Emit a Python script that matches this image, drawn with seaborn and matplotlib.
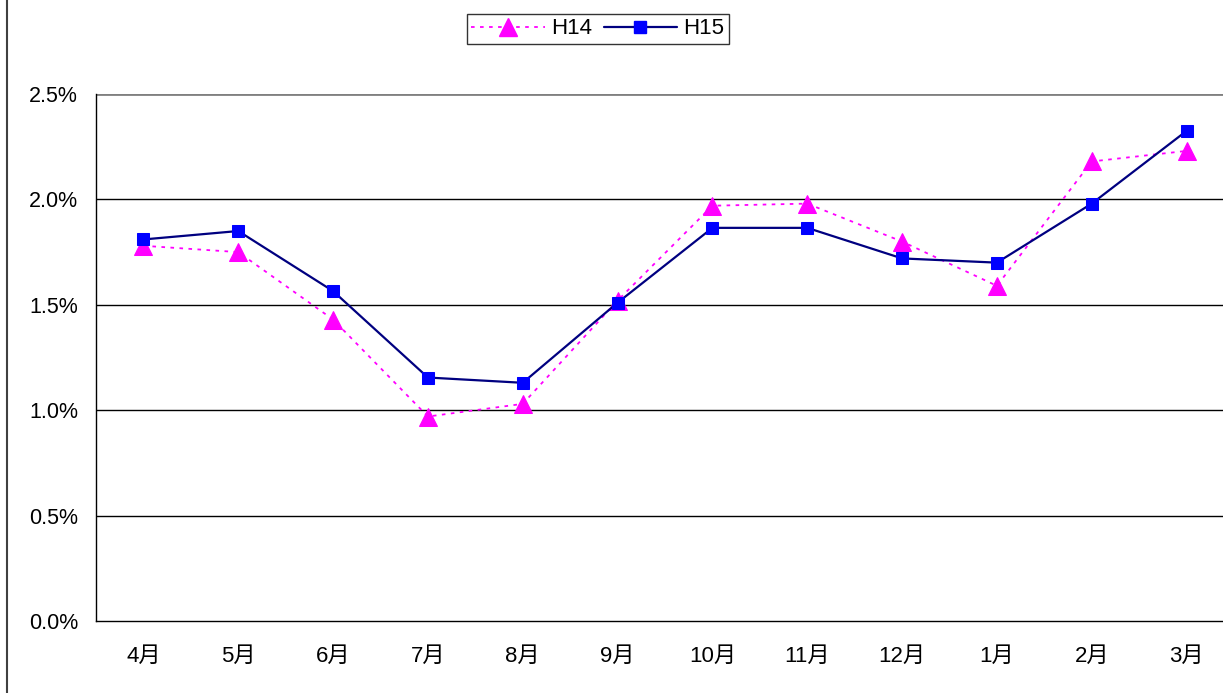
import pandas as pd
import matplotlib
matplotlib.use("Agg")
import matplotlib.pyplot as plt
import seaborn as sns
from matplotlib.lines import Line2D
from matplotlib.ticker import FixedLocator, PercentFormatter

months = ['4月', '5月', '6月', '7月', '8月', '9月', '10月', '11月', '12月', '1月', '2月', '3月']
h14 = [1.78, 1.75, 1.43, 0.97, 1.03, 1.52, 1.97, 1.98, 1.80, 1.59, 2.18, 2.23]
h15 = [1.81, 1.85, 1.565, 1.155, 1.13, 1.51, 1.865, 1.865, 1.72, 1.70, 1.98, 2.325]

sns.set_style("white")
plt.rcParams['font.family'] = ['Liberation Sans', 'Noto Sans CJK JP']

df = pd.DataFrame({'month': months, 'H14': h14, 'H15': h15})
df['pos'] = range(len(months))

fig = plt.figure(figsize=(12.23, 6.93), dpi=100)
ax = fig.add_axes([96 / 1223, 1 - 621 / 693, 1138 / 1223, (621 - 94) / 693])

sns.lineplot(data=df, x='pos', y='H14', ax=ax, color='#FF00FF', linestyle=(0, (2, 3)),
             linewidth=1.3, marker='^', markersize=13, markeredgecolor='#FF00FF',
             markerfacecolor='#FF00FF', label='H14', legend=False)
sns.lineplot(data=df, x='pos', y='H15', ax=ax, color='#000080', linewidth=1.6,
             marker='s', markersize=8, markeredgecolor='#0000FF',
             markerfacecolor='#0000FF', label='H15', legend=False)

ax.set_xlim(-0.5, len(months) - 0.5)
ax.set_ylim(0, 2.5)
ax.set_yticks([0, 0.5, 1.0, 1.5, 2.0, 2.5])
ax.yaxis.set_major_formatter(PercentFormatter(decimals=1))
ax.set_xticks(df['pos'])
ax.set_xticklabels(months)
ax.xaxis.set_minor_locator(FixedLocator([i + 0.5 for i in range(len(months) - 1)]))
ax.tick_params(axis='x', which='major', length=0, labelsize=16, pad=18, labelcolor='black')
ax.tick_params(axis='x', which='minor', direction='in', length=5, width=1, color='black')
ax.tick_params(axis='y', length=0, labelsize=15.5, pad=13, labelcolor='black')
ax.set_xlabel('')
ax.set_ylabel('')

for v in [0.5, 1.0, 1.5, 2.0]:
    ax.axhline(v, color='black', linewidth=1, zorder=0)
ax.axhline(2.5, color='#808080', linewidth=2, zorder=0)

for s in ['top', 'right']:
    ax.spines[s].set_visible(False)
ax.spines['left'].set_color('black')
ax.spines['bottom'].set_color('black')
ax.spines['left'].set_linewidth(1)
ax.spines['bottom'].set_linewidth(1)

# outer frame line on the left edge
fig.add_artist(Line2D([7 / 1223, 7 / 1223], [0, 1], transform=fig.transFigure,
                      color='#404040', linewidth=1.5))

handles = [
    Line2D([], [], color='#FF00FF', linestyle=(0, (2, 3)), linewidth=1.3, marker='^',
           markersize=13, markerfacecolor='#FF00FF', markeredgecolor='#FF00FF'),
    Line2D([], [], color='#000080', linewidth=1.6, marker='s', markersize=8,
           markerfacecolor='#0000FF', markeredgecolor='#0000FF'),
]
leg = fig.legend(handles, ['H14', 'H15'], loc='center', bbox_to_anchor=(598 / 1223, 1 - 29 / 693),
                 ncol=2, frameon=True, fancybox=False, fontsize=16, handlelength=3.3,
                 handletextpad=0.3, columnspacing=0.5, borderpad=0.2, borderaxespad=0)
leg.get_frame().set_edgecolor('black')
leg.get_frame().set_linewidth(1)
for t in leg.get_texts():
    t.set_color('black')

fig.savefig('out.png', dpi=100)
